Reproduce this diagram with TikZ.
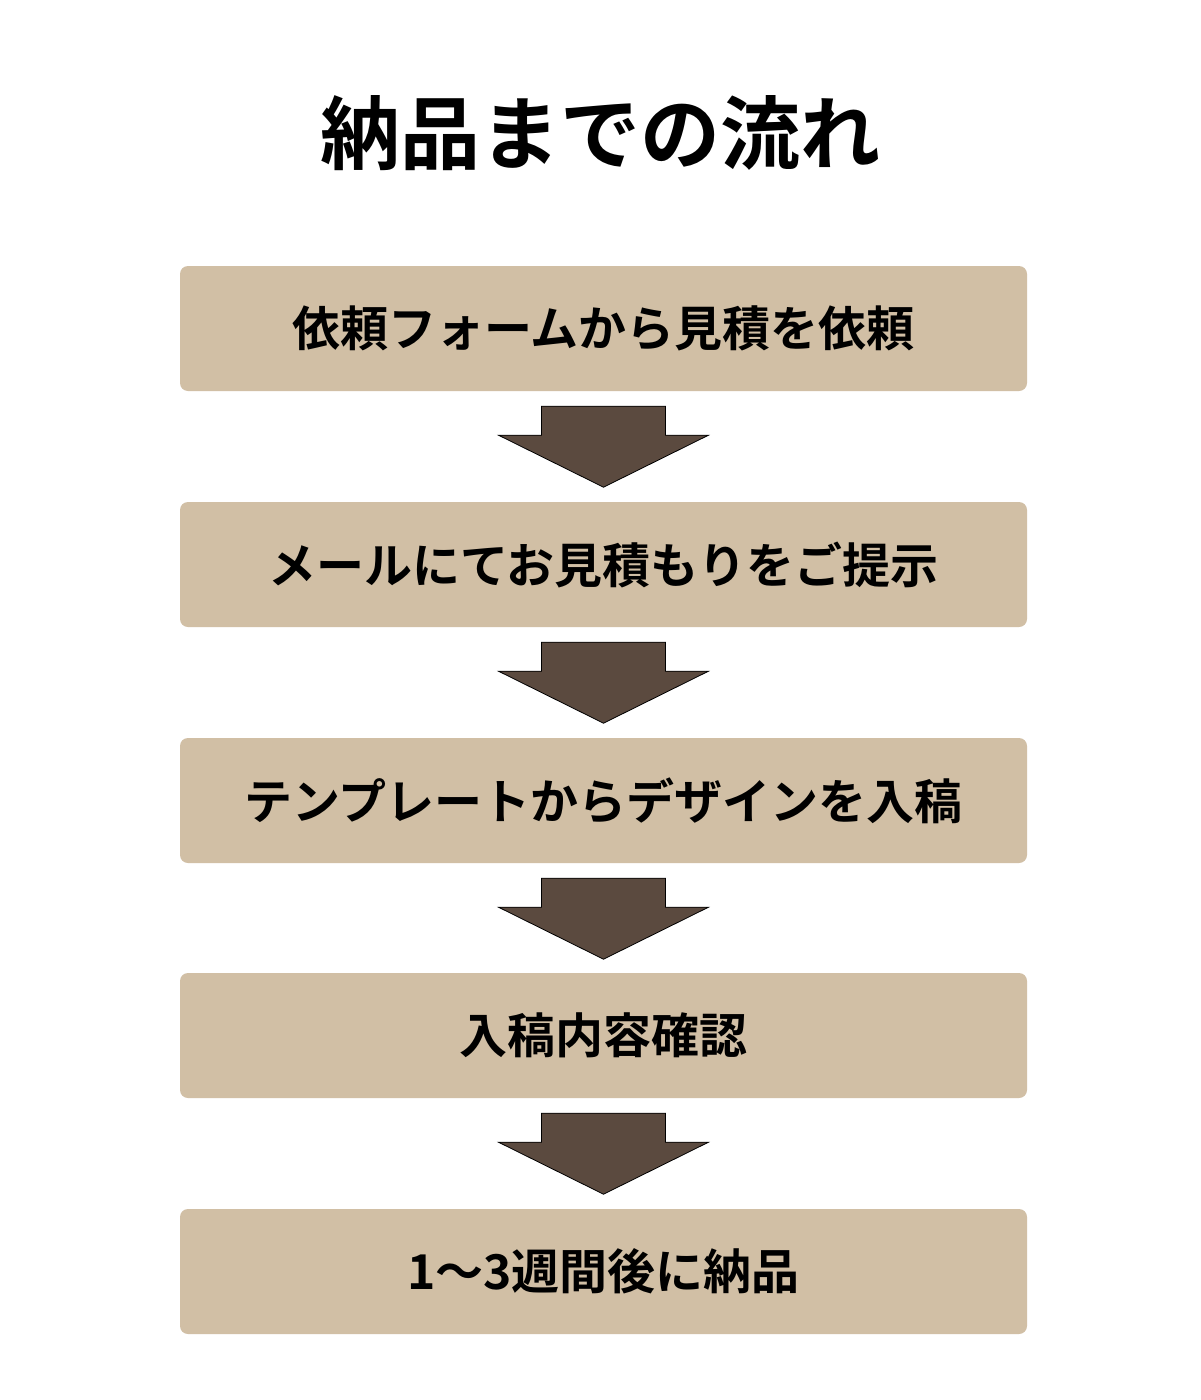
\documentclass[tikz,border=0pt]{standalone}
\usepackage{fontspec}
\setmainfont{Noto Sans CJK JP}[BoldFont={Noto Sans CJK JP Bold}]
\usetikzlibrary{calc}
\definecolor{boxfill}{HTML}{D1BFA5}
\definecolor{arrowfill}{HTML}{5B4A3F}
\tikzset{
  stepbox/.style={fill=boxfill, rounded corners=8pt, minimum width=847pt, minimum height=125pt, inner sep=0pt,
    font=\fontsize{48}{58}\selectfont\bfseries, text=black},
  titletext/.style={font=\fontsize{80}{96}\selectfont\bfseries, text=black, inner sep=0pt},
  bigarrow/.style={fill=arrowfill, draw=black, line width=0.8pt, line join=miter}
}
\newcommand{\downarrowshape}[1]{%
  \draw[bigarrow] ($(#1.south)+(-62,15)$) -- ($(#1.south)+(62,15)$) -- ($(#1.south)+(62,44)$)
    -- ($(#1.south)+(105,44)$) -- ($(#1.south)+(0,96)$) -- ($(#1.south)+(-105,44)$)
    -- ($(#1.south)+(-62,44)$) -- cycle;}
\begin{document}
\begin{tikzpicture}[x=1pt,y=-1pt]
\useasboundingbox[fill=white] (0,0) rectangle (1200,1400);
\node[titletext] (title) at (600,133) {納品までの流れ};
\node[stepbox] (s1) at (603.5,328.5) {依頼フォームから見積を依頼};
\node[stepbox] (s2) at (603.5,564.5) {メールにてお見積もりをご提示};
\node[stepbox] (s3) at (603.5,800.5) {テンプレートからデザインを入稿};
\node[stepbox] (s4) at (603.5,1035.5) {入稿内容確認};
\node[stepbox] (s5) at (603.5,1271.5) {1～3週間後に納品};
\downarrowshape{s1}
\downarrowshape{s2}
\downarrowshape{s3}
\downarrowshape{s4}
\end{tikzpicture}
\end{document}
